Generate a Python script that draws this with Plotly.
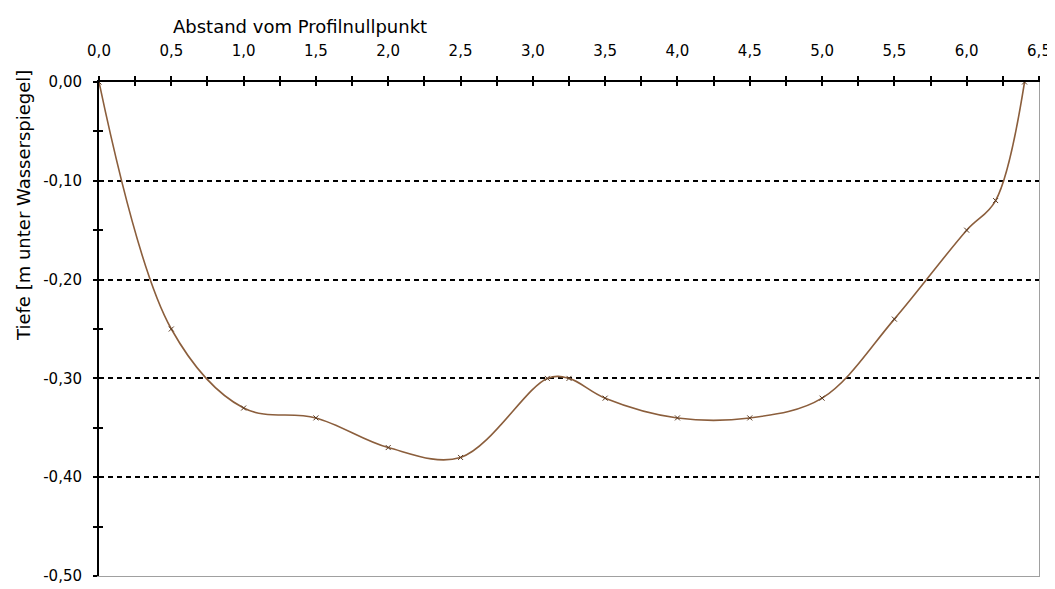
import plotly.graph_objects as go

# Data
distance = [0.0, 0.5, 1.0, 1.5, 2.0, 2.5, 3.1, 3.25, 3.5, 4.0, 4.5, 5.0, 5.5, 6.0, 6.2, 6.4]
depth = [0.0, -0.25, -0.33, -0.34, -0.37, -0.38, -0.30, -0.30, -0.32, -0.34, -0.34, -0.32, -0.24, -0.15, -0.12, 0.0]

x_ticks = [0.0, 0.5, 1.0, 1.5, 2.0, 2.5, 3.0, 3.5, 4.0, 4.5, 5.0, 5.5, 6.0, 6.5]
x_ticklabels = ["0,0", "0,5", "1,0", "1,5", "2,0", "2,5", "3,0", "3,5", "4,0", "4,5", "5,0", "5,5", "6,0", "6,5"]
y_ticks = [0.0, -0.1, -0.2, -0.3, -0.4, -0.5]
y_ticklabels = ["0,00", "-0,10", "-0,20", "-0,30", "-0,40", "-0,50"]
grid_vals = [-0.1, -0.2, -0.3, -0.4]

x_title = "Abstand vom Profilnullpunkt"
y_title = "Tiefe [m unter Wasserspiegel]"

FONT = "DejaVu Sans, Verdana, sans-serif"

# the page body has an 8px default margin; size the figure so the plot area
# lands at x 99..1039, y 82..576 of the window
PAGE_OFF = 8
W, H = 1055 - PAGE_OFF, 589 - PAGE_OFF
L, R, T, B = 99 - PAGE_OFF, 16, 82 - PAGE_OFF, 13
PW, PH = W - L - R, H - T - B

fig = go.Figure()

common_x = dict(range=[0, 6.5], fixedrange=True, zeroline=False, showgrid=False, automargin=False)
common_y = dict(range=[-0.5, 0], fixedrange=True, zeroline=False, automargin=False)

# helper invisible traces to activate overlay axes
for xa, ya in [("x2", "y2"), ("x3", "y3"), ("x2", "y4")]:
    fig.add_trace(go.Scatter(x=[None], y=[None], xaxis=xa, yaxis=ya,
                             showlegend=False, hoverinfo="skip"))

fig.add_trace(go.Scatter(
    x=distance, y=depth, mode="lines+markers",
    line=dict(color="#8B5E3C", width=1.6, shape="spline", smoothing=1.0),
    marker=dict(symbol="x-thin", size=5, line=dict(color="#5a3a22", width=1)),
    showlegend=False, hoverinfo="x+y",
))

fig.update_layout(
    width=W, height=H,
    margin=dict(l=L, r=R, t=T, b=B),
    paper_bgcolor="white", plot_bgcolor="white",
    font=dict(family=FONT, size=15, color="black"),
    xaxis=dict(**common_x, side="top", tickvals=x_ticks, ticktext=x_ticklabels,
               ticks="outside", ticklen=4, tickwidth=1.5, tickcolor="black",
               minor=dict(dtick=0.25, tick0=0, ticks="outside", ticklen=4, tickwidth=1.5, tickcolor="black"),
               ticklabelstandoff=14,
               showline=True, linecolor="black", linewidth=2),
    xaxis2=dict(**common_x, overlaying="x", side="top", dtick=0.25, tick0=0,
                ticks="inside", ticklen=4, tickwidth=1.5, tickcolor="black",
                showticklabels=False, showline=False),
    xaxis3=dict(**common_x, overlaying="x", side="bottom", showticklabels=False,
                ticks="", showline=True, linecolor="#a0a0a0", linewidth=1),
    yaxis=dict(**common_y, tickvals=y_ticks, ticktext=y_ticklabels, showgrid=False,
               ticks="outside", ticklen=4, tickwidth=1.5, tickcolor="black",
               minor=dict(dtick=0.05, tick0=0, ticks="outside", ticklen=4, tickwidth=1.5, tickcolor="black"),
               ticklabelstandoff=8,
               showline=True, linecolor="black", linewidth=2),
    yaxis2=dict(**common_y, overlaying="y", side="left", tickvals=grid_vals,
                showticklabels=False, ticks="", showgrid=True, gridcolor="black",
                gridwidth=1.5, griddash="5px,4px", showline=False),
    yaxis3=dict(**common_y, overlaying="y", side="left", dtick=0.05, tick0=0,
                showticklabels=False, ticks="inside", ticklen=4, tickwidth=1.5,
                tickcolor="black", showgrid=False, showline=False),
    yaxis4=dict(**common_y, overlaying="y", side="right", showticklabels=False,
                ticks="", showgrid=False, showline=True, linecolor="#a0a0a0", linewidth=1),
)

fig.add_annotation(text=x_title, xref="paper", yref="paper",
                   x=(300 - 99) / PW, y=1 + (82 - 26) / PH,
                   xanchor="center", yanchor="middle", showarrow=False,
                   font=dict(family=FONT, size=18))
fig.add_annotation(text=y_title, xref="paper", yref="paper",
                   x=-(99 - 24) / PW, y=1 - (206 - 82) / PH, textangle=-90,
                   xanchor="center", yanchor="middle", showarrow=False,
                   font=dict(family=FONT, size=18))

fig.write_html("out.html")
